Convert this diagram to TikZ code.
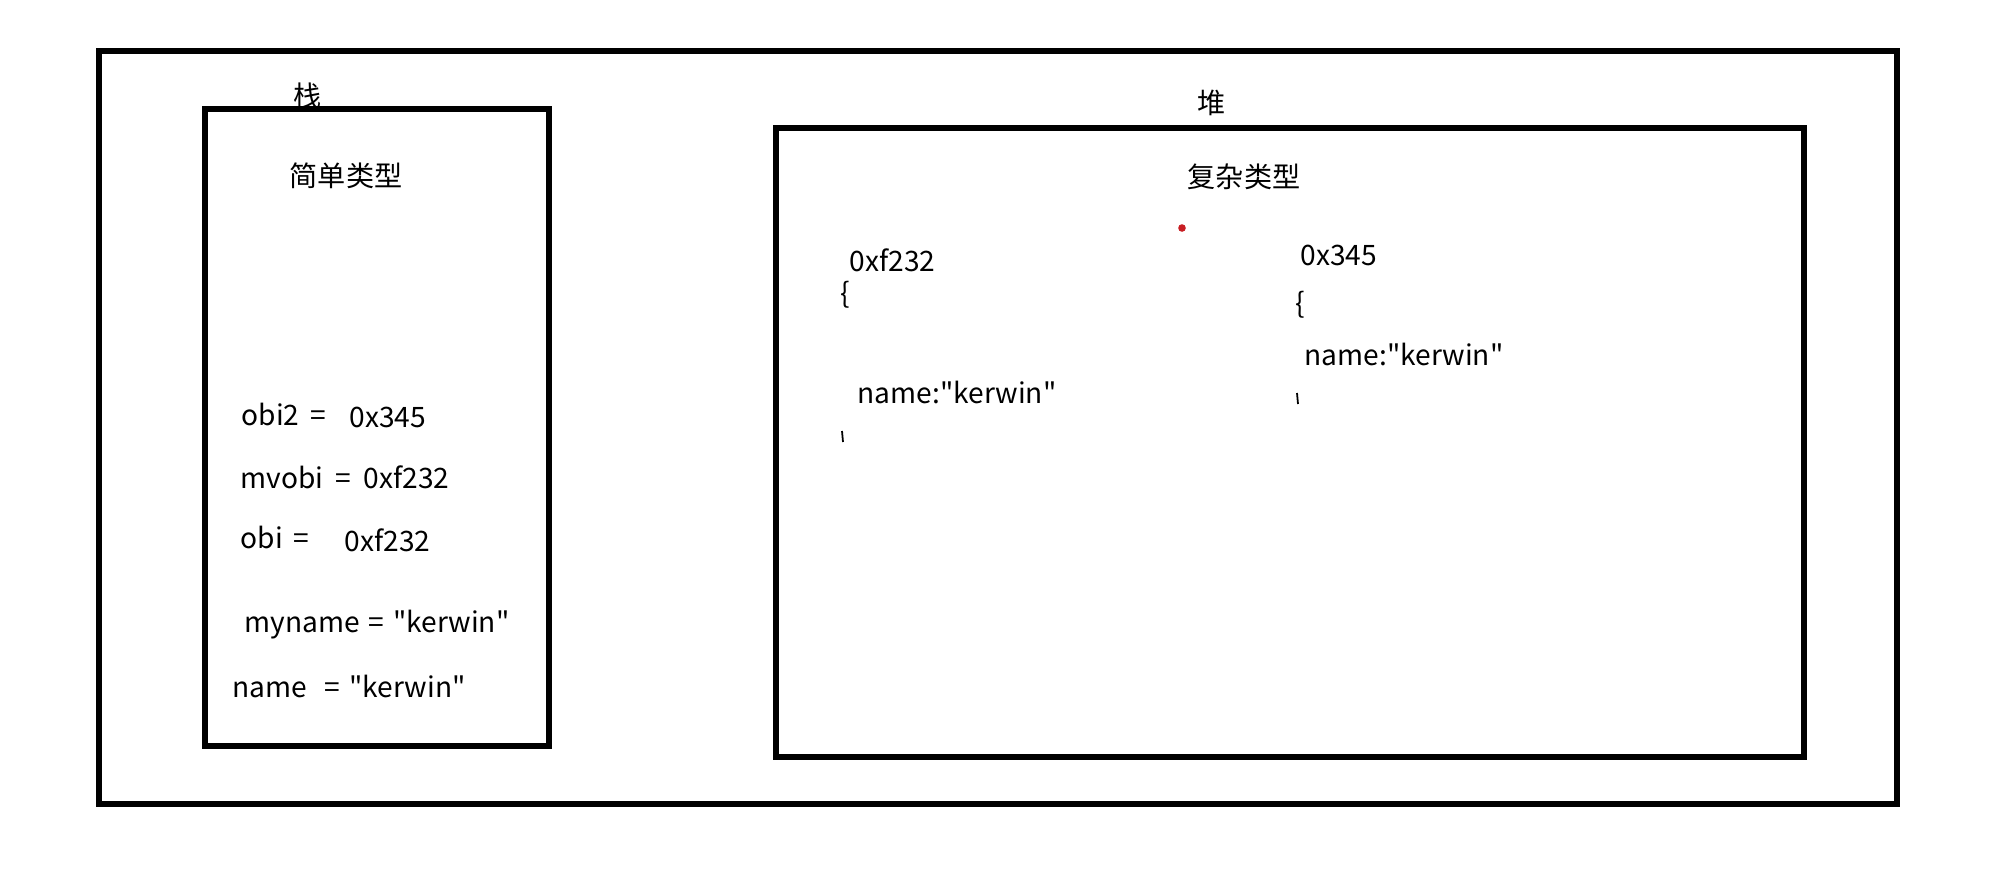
\documentclass[tikz,border=0pt]{standalone}
\usepackage{fontspec}
\usepackage{tikz}
\usetikzlibrary{positioning}
\newfontfamily\cjk{Noto Sans CJK SC}
\definecolor{dotred}{RGB}{200,30,35}
\tikzset{
  frame/.style={draw=black,line width=1.9pt},
  memtext/.style={font=\cjk\fontsize{8pt}{10pt}\selectfont,inner sep=0pt,anchor=west},
  areatitle/.style={font=\cjk\fontsize{8pt}{10pt}\selectfont,inner sep=0pt},
  brtick/.style={line width=0.5pt}
}
\begin{document}
\begin{tikzpicture}[x=0.01cm,y=-0.01cm]
\useasboundingbox[fill=white] (0,0) rectangle (2011,872);

\draw[frame] (99,51) rectangle (1897,804);

% stack
\begin{scope}
  \draw[frame] (205,109) rectangle (549,746);
  \node[areatitle] (stacklbl) at (308,96) {栈};
  \node[areatitle] (simpletype) at (346,176) {简单类型};

  \node[memtext] (obj2) at (241,414) {obi2\hspace{3pt}=};
  \node[memtext] (obj2val) at (349,417) {0x345};
  \node[memtext] (myobj) at (240,477) {mvobi\hspace{3.5pt}=\hspace{3.5pt}0xf232};
  \node[memtext] (obj) at (240,537) {obi\hspace{3pt}=};
  \node[memtext] (objval) at (344,540) {0xf232};
  \node[memtext] (myname) at (244,625) {myname\hspace{2.5pt}=\hspace{2.5pt}"kerwin"};
  \node[memtext] (name) at (232,686) {name\hspace{5pt}=\hspace{2.5pt}"kerwin"};
\end{scope}

% heap
\begin{scope}
  \draw[frame] (776,128) rectangle (1804,757);
  \node[areatitle] (heaplbl) at (1212,103) {堆};
  \node[areatitle] (complextype) at (1244,177) {复杂类型};
  \fill[dotred] (1182,228) circle (3.8);

  \node[memtext] (addrA) at (849,260) {0xf232};
  \node[memtext] (openA) at (840,295) {\{};
  \node[memtext] (nameA) at (857,392) {name:"kerwin"};
  \draw[brtick] (842,431) -- (843,442);

  \node[memtext] (addrB) at (1300,255) {0x345};
  \node[memtext] (openB) at (1295,305) {\{};
  \node[memtext] (nameB) at (1304,354) {name:"kerwin"};
  \draw[brtick] (1297,393) -- (1298,404);
\end{scope}

\end{tikzpicture}
\end{document}
